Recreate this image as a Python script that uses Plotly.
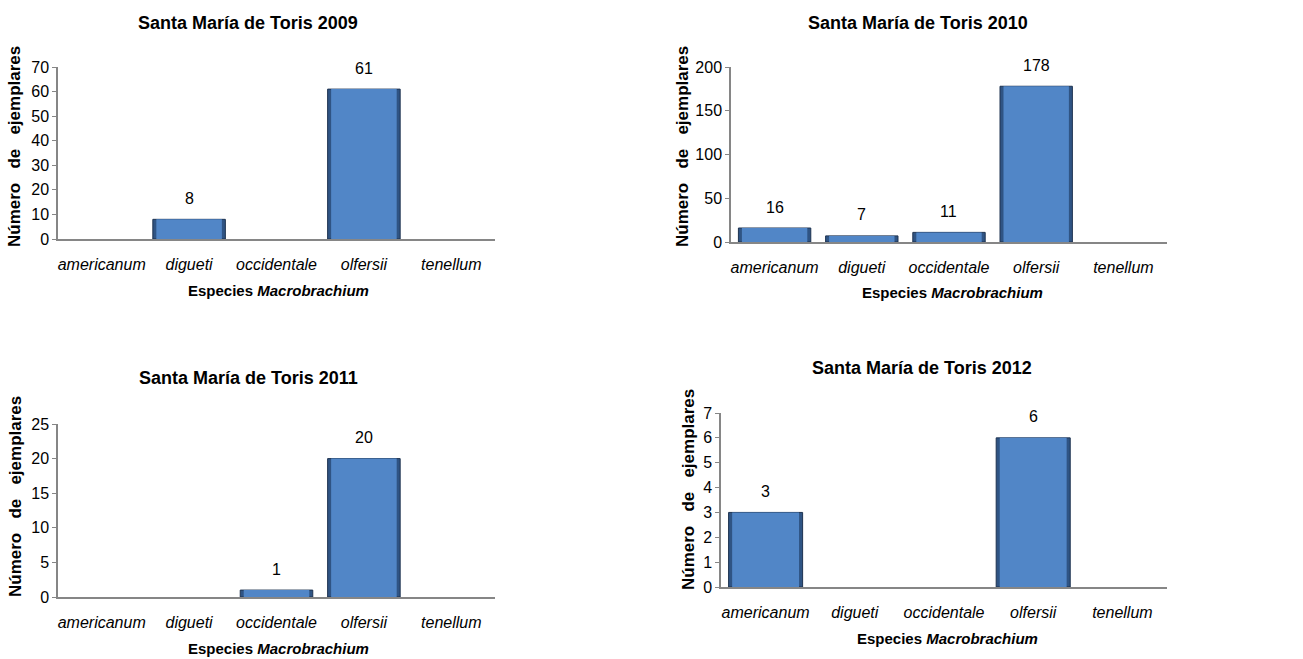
import plotly.graph_objects as go

# Datos: número de ejemplares por especie de Macrobrachium
especies = ["americanum", "digueti", "occidentale", "olfersii", "tenellum"]
anios = ["2009", "2010", "2011", "2012"]
ej_2009 = [0, 8, 0, 61, 0]
ej_2010 = [16, 7, 11, 178, 0]
ej_2011 = [0, 0, 1, 20, 0]
ej_2012 = [3, 0, 0, 6, 0]
y_max = [70, 200, 25, 7]
y_paso = [10, 50, 5, 1]

datos = [ej_2009, ej_2010, ej_2011, ej_2012]

W, H = 1303, 659


def px_x(v):
    return v / W


def px_y(v):
    return 1 - v / H


# posiciones de cada panel en pixeles: (izq, der), (arriba, abajo)
caja_x = [(58, 495), (731, 1167), (58, 495), (721, 1167)]
caja_y = [(67, 239), (67, 242), (424, 597), (413, 587)]
tit_pos = [(248, 23), (918, 23), (248, 378), (922, 368)]
xt_pos = [(278, 291), (952, 293), (278, 648), (947, 638)]
yt_pos = [(15, 147), (683, 147), (15, 497), (689, 490)]

fuente = "Liberation Sans, Arial, sans-serif"

fig = go.Figure()
anotaciones = []

for i, valores in enumerate(datos):
    xa = "x" if i == 0 else f"x{i + 1}"
    ya = "y" if i == 0 else f"y{i + 1}"
    visibles = [v if v > 0 else None for v in valores]
    # barra exterior oscura + barra interior clara (efecto biselado)
    fig.add_trace(go.Bar(
        x=especies, y=visibles, xaxis=xa, yaxis=ya, width=0.83,
        marker=dict(color="#2F5484", line=dict(color="#1E3350", width=1)),
        showlegend=False, hoverinfo="skip"))
    fig.add_trace(go.Bar(
        x=especies, y=visibles, xaxis=xa, yaxis=ya, width=0.75,
        marker=dict(color="#5186C7", line=dict(width=0)),
        showlegend=False))

    for esp, v in zip(especies, valores):
        if v > 0:
            anotaciones.append(dict(
                x=esp, y=v, xref=xa, yref=ya, text=str(v), showarrow=False,
                yshift=21, font=dict(family=fuente, size=16, color="#000000")))

    sx = "" if i == 0 else str(i + 1)
    fig.update_layout({
        f"xaxis{sx}": dict(
            domain=[px_x(caja_x[i][0]), px_x(caja_x[i][1])], anchor=ya,
            type="category", automargin=False,
            showline=True, linecolor="#868686", linewidth=1.5,
            ticks="", showgrid=False, ticklabelstandoff=10,
            tickfont=dict(family=fuente, size=16, color="#000000", style="italic")),
        f"yaxis{sx}": dict(
            domain=[px_y(caja_y[i][1]), px_y(caja_y[i][0])], anchor=xa,
            range=[0, y_max[i]], dtick=y_paso[i], automargin=False,
            showline=True, linecolor="#868686", linewidth=1.5,
            ticks="outside", ticklen=4, tickcolor="#868686", showgrid=False,
            zeroline=False,
            tickfont=dict(family=fuente, size=16, color="#000000")),
    })

    anotaciones.append(dict(
        x=px_x(tit_pos[i][0]), y=px_y(tit_pos[i][1]), xref="paper", yref="paper",
        text=f"<b>Santa María de Toris {anios[i]}</b>", showarrow=False,
        xanchor="center", yanchor="middle",
        font=dict(family=fuente, size=18, color="#000000")))
    anotaciones.append(dict(
        x=px_x(xt_pos[i][0]), y=px_y(xt_pos[i][1]), xref="paper", yref="paper",
        text="<b>Especies <i>Macrobrachium</i></b>", showarrow=False,
        xanchor="center", yanchor="middle",
        font=dict(family=fuente, size=15, color="#000000")))
    anotaciones.append(dict(
        x=px_x(yt_pos[i][0]), y=px_y(yt_pos[i][1]), xref="paper", yref="paper",
        text="<b>Número\u00a0\u00a0\u00a0de\u00a0\u00a0\u00a0ejemplares</b>",
        showarrow=False, textangle=-90, xanchor="center", yanchor="middle",
        font=dict(family=fuente, size=17, color="#000000")))

fig.update_layout(
    width=W, height=H,
    margin=dict(l=0, r=0, t=0, b=0),
    barmode="overlay",
    paper_bgcolor="white", plot_bgcolor="white",
    annotations=anotaciones,
)

fig.write_html("out.html", config={"displayModeBar": False},
               post_script="document.body.style.margin='0';")
